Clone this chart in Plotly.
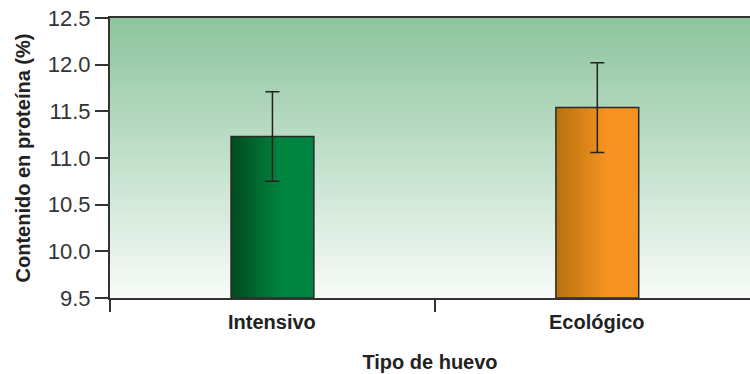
import plotly.graph_objects as go

categories = ["Intensivo", "Ecológico"]
values = [11.23, 11.54]
errors = [0.48, 0.48]
bar_colors_left = ["#004a1c", "#b5720f"]
bar_colors_right = ["#008540", "#f59220"]
y_ticks = [9.5, 10.0, 10.5, 11.0, 11.5, 12.0, 12.5]

y_min, y_max = 9.5, 12.5
x_min, x_max = -0.5, 1.47
bar_w = 0.255

FONT = "Liberation Sans, Arial, sans-serif"
fig = go.Figure()

# background gradient (plot-area decoration)
fig.add_trace(go.Scatter(
    x=[x_min, x_max, x_max, x_min], y=[y_min, y_min, y_max, y_max],
    fill="toself", mode="none", hoverinfo="skip", showlegend=False,
    fillgradient=dict(type="vertical",
                      colorscale=[[0, "#f7fbf8"], [0.5, "#c2e0cb"], [1, "#8dc49e"]]),
))

# bars drawn as gradient-filled rectangles built from the data
for i, (cat, v) in enumerate(zip(categories, values)):
    x0, x1 = i - bar_w / 2, i + bar_w / 2
    fig.add_trace(go.Scatter(
        x=[x0, x1, x1, x0, x0], y=[y_min, y_min, v, v, y_min],
        fill="toself", mode="lines",
        line=dict(color="#2a2a2a", width=1.5),
        fillgradient=dict(type="horizontal",
                          colorscale=[[0, bar_colors_left[i]], [0.6, bar_colors_right[i]],
                                      [1, bar_colors_right[i]]]),
        hoverinfo="skip", showlegend=False,
    ))

# error bars
fig.add_trace(go.Scatter(
    x=list(range(len(categories))), y=values, mode="markers",
    marker=dict(size=1, opacity=0),
    error_y=dict(type="data", array=errors, visible=True,
                 color="#222222", thickness=1.5, width=7),
    showlegend=False, hoverinfo="skip",
))

for i, cat in enumerate(categories):
    fig.add_annotation(x=i, y=0, xref="x", yref="paper", yanchor="top", yshift=-11,
                       text=f"<b>{cat}</b>", showarrow=False,
                       font=dict(family=FONT, size=20, color="#222222"))

fig.update_layout(
    width=750, height=374,
    margin=dict(l=110, r=0, t=18, b=76),
    paper_bgcolor="white", plot_bgcolor="white",
    font=dict(family=FONT, color="#222222"),
    xaxis=dict(range=[x_min, x_max], tickvals=[-0.5, 0.5, 1.5], ticktext=["", "", ""],
               ticks="outside", ticklen=12, tickcolor="#333333", tickwidth=1.5,
               showline=True, linecolor="#333333", linewidth=2, mirror=True,
               showgrid=False, zeroline=False,
               title=dict(text="<b>Tipo de huevo</b>", font=dict(family=FONT, size=20),
                          standoff=42)),
    yaxis=dict(range=[y_min, y_max], tickvals=y_ticks, tickformat=".1f",
               ticks="outside", ticklen=13, tickcolor="#333333", tickwidth=1.5,
               showline=True, linecolor="#333333", linewidth=2,
               showgrid=False, zeroline=False,
               tickfont=dict(family=FONT, size=22, color="#333333"),
               title=dict(text="<b>Contenido en proteína (%)</b>",
                          font=dict(family=FONT, size=20), standoff=12)),
)

fig.write_html("out.html", config={"displayModeBar": False},
               post_script="document.body.style.margin='0';document.body.style.padding='0';")
